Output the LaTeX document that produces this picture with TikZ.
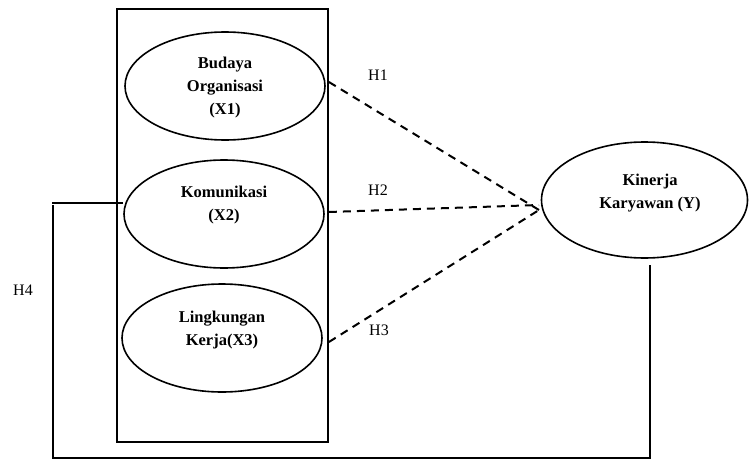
\documentclass[tikz,border=0pt]{standalone}
\usepackage{fontspec}
\setmainfont{Liberation Serif}
\usetikzlibrary{shapes.geometric}
\tikzset{
    var/.style={draw, ellipse, line width=1.6pt, minimum width=200pt, minimum height=108pt, inner sep=0pt},
    vartext/.style={align=center, font=\bfseries\fontsize{16.5}{23}\selectfont},
    hyp/.style={font=\fontsize{16}{18}\selectfont},
    path/.style={dashed, line width=2pt, dash pattern=on 8pt off 6pt},
    link/.style={line width=1.8pt}
}
\begin{document}
\begin{tikzpicture}[x=1pt, y=-1pt]
    \useasboundingbox(0,0) rectangle (749,460);
    \node[draw, line width=1.8pt, minimum width=211pt, minimum height=433pt, inner sep=0pt](frame)at(222.5,225.5){};
    \node[var](x1)at(225,86){};
    \node[var](x2)at(224,214){};
    \node[var](x3)at(222,338){};
    \node[var, minimum width=206pt, minimum height=116pt](y)at(644.5,200){};
    \node[vartext](x1t)at(225,88){Budaya\\Organisasi\\(X1)};
    \node[vartext](x2t)at(224,205){Komunikasi\\(X2)};
    \node[vartext](x3t)at(222,330){Lingkungan\\Kerja(X3)};
    \node[vartext](yt)at(650,193){Kinerja\\Karyawan (Y)};
    \coordinate(meet)at(539,210);
    \draw[path](frame.east|-0,82)--(meet);
    \draw[path](frame.east|-0,212)--(539,205);
    \draw[path](frame.east|-0,342)--(meet);
    \node[hyp](h1)at(378,75){H1};
    \node[hyp](h2)at(378,190){H2};
    \node[hyp](h3)at(379,330){H3};
    \node[hyp](h4)at(23,290){H4};
    % H4 line
    \coordinate(h4top)at(52,203);
    \coordinate(h4bot)at(53,458);
    \coordinate(ybot)at(650,458);
    \draw[link](x2.west|-h4top)--(h4top);
    \draw[link](53,205)--(h4bot)--(ybot)--(650,265);
\end{tikzpicture}
\end{document}
